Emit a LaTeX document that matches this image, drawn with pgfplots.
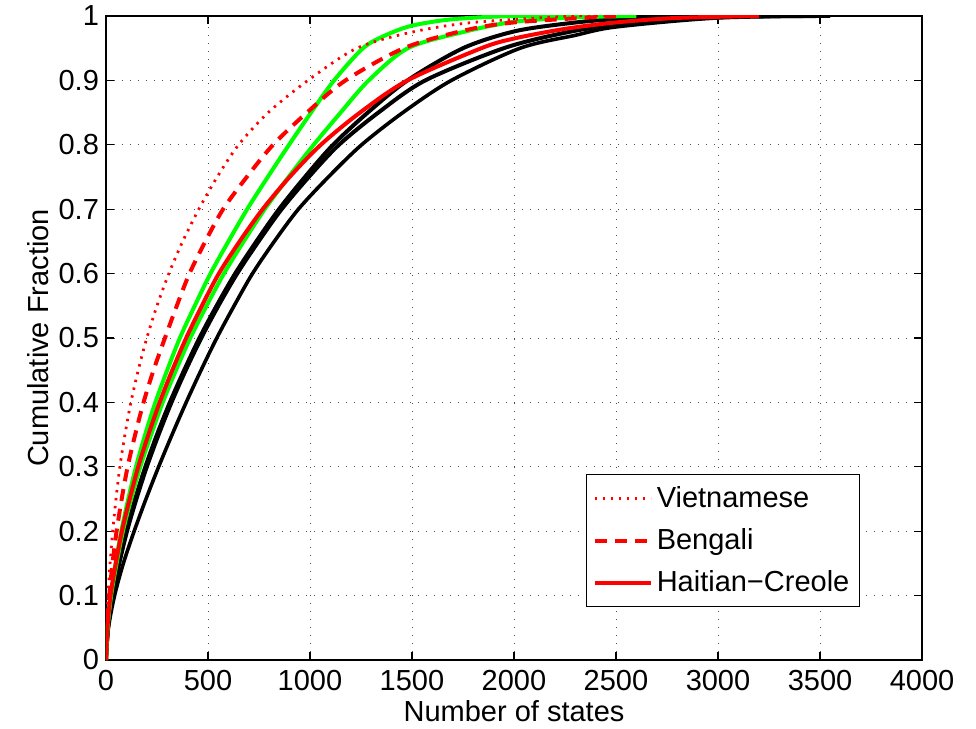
\documentclass[border=0pt]{standalone}
\usepackage{pgfplots}
\pgfplotsset{compat=1.18}
\usepackage{fontspec}
\setmainfont{Liberation Sans}

\definecolor{mgreen}{rgb}{0,1,0}

\begin{document}
\begin{tikzpicture}
  \begin{axis}[
      scale only axis,
      width=408pt, height=322pt,
      xmin=0, xmax=4000, ymin=0, ymax=1,
      xtick={0,500,...,4000},
      ytick={0,0.1,...,1.0},
      /pgf/number format/assume math mode=true,
      yticklabel style={/pgf/number format/fixed, /pgf/number format/precision=1},
      xticklabel style={/pgf/number format/set thousands separator={}, yshift=-1.5pt},
      tick label style={font=\fontsize{14.5}{17}\selectfont},
      label style={font=\fontsize{14.5}{17}\selectfont},
      xlabel={Number of states},
      ylabel={Cumulative Fraction},
      xlabel style={yshift=2pt},
      ylabel style={yshift=-2pt},
      grid=major,
      major grid style={black!70, line width=0.5pt, dash pattern=on 0.6pt off 3.4pt},
      tick align=inside,
      major tick length=4pt,
      tick style={black, line width=0.6pt},
      axis line style={line width=0.75pt},
      legend cell align=left,
      legend style={at={(rel axis cs:0.924,0.082)}, anchor=south east,
        font=\fontsize{14.5}{17}\selectfont, draw=black, line width=0.6pt,
        row sep=5pt, inner xsep=3pt, inner ysep=4pt},
      legend image code/.code={\draw[#1] (0pt,0pt) -- (28pt,0pt);},
  ]
    % black curves
    \addplot[black, line width=2pt, smooth, forget plot] table {
      0 0
      9 0.05
      30 0.1
      61 0.15
      98 0.2
      143 0.25
      193 0.3
      250 0.35
      313 0.4
      383 0.45
      458 0.5
      542 0.55
      633 0.6
      737 0.65
      848 0.7
      975 0.75
      1113 0.8
      1283 0.85
      1478 0.9
      1750 0.95
      2000 0.976
      2250 0.988
      2500 0.995
      3000 1.0
      3550 1.0
    };
    \addplot[black, line width=2pt, smooth, forget plot] table {
      0 0
      10 0.05
      33 0.1
      65 0.15
      103 0.2
      149 0.25
      200 0.3
      258 0.35
      321 0.4
      391 0.45
      467 0.5
      551 0.55
      643 0.6
      748 0.65
      861 0.7
      994 0.75
      1142 0.8
      1335 0.85
      1565 0.9
      1950 0.95
      2250 0.974
      2500 0.986
      3000 0.998
      3500 1.0
    };
    \addplot[black, line width=1.8pt, smooth, forget plot] table {
      0 0
      12 0.05
      42 0.1
      85 0.15
      138 0.2
      196 0.25
      258 0.3
      324 0.35
      393 0.4
      466 0.45
      543 0.5
      628 0.55
      718 0.6
      825 0.65
      943 0.7
      1090 0.75
      1253 0.8
      1455 0.85
      1693 0.9
      2030 0.95
      2300 0.97
      2500 0.983
      3000 0.997
      3550 1.0
    };
    % green curves
    \addplot[mgreen, line width=2pt, smooth, forget plot] table {
      0 0
      7 0.05
      23 0.1
      47 0.15
      75 0.2
      109 0.25
      147 0.3
      192 0.35
      242 0.4
      300 0.45
      362 0.5
      435 0.55
      512 0.6
      600 0.65
      692 0.7
      793 0.75
      897 0.8
      1005 0.85
      1118 0.9
      1260 0.95
      1370 0.97
      1500 0.985
      1700 0.995
      2000 1.0
      2400 1.0
    };
    \addplot[mgreen, line width=2pt, smooth, forget plot] table {
      0 0
      8 0.05
      25 0.1
      52 0.15
      83 0.2
      123 0.25
      168 0.3
      221 0.35
      278 0.4
      343 0.45
      413 0.5
      493 0.55
      578 0.6
      675 0.65
      778 0.7
      895 0.75
      1018 0.8
      1150 0.85
      1288 0.9
      1480 0.95
      1750 0.975
      2000 0.991
      2300 0.998
      2600 1.0
    };
    % red curves (legend)
    \addplot[red, line width=1.4pt, smooth, dash pattern=on 1.2pt off 2.8pt] table {
      0 0
      3 0.05
      10 0.1
      20 0.15
      33 0.2
      49 0.25
      68 0.3
      93 0.35
      122 0.4
      158 0.45
      200 0.5
      250 0.55
      308 0.6
      376 0.65
      455 0.7
      545 0.75
      650 0.8
      795 0.85
      990 0.9
      1230 0.95
      1500 0.975
      1800 0.99
      2300 1.0
      2500 1.0
    };
    \addlegendentry{Vietnamese}
    \addplot[red, line width=2pt, smooth, dash pattern=on 6pt off 4pt] table {
      0 0
      5 0.05
      16 0.1
      32 0.15
      52 0.2
      77 0.25
      106 0.3
      143 0.35
      184 0.4
      233 0.45
      289 0.5
      347 0.55
      409 0.6
      487 0.65
      574 0.7
      690 0.75
      819 0.8
      985 0.85
      1174 0.9
      1460 0.95
      1750 0.977
      2000 0.99
      2500 1.0
    };
    \addlegendentry{Bengali}
    \addplot[red, line width=2pt, smooth] table {
      0 0
      7 0.05
      22 0.1
      48 0.15
      78 0.2
      116 0.25
      158 0.3
      208 0.35
      263 0.4
      325 0.45
      393 0.5
      470 0.55
      553 0.6
      655 0.65
      768 0.7
      900 0.75
      1053 0.8
      1245 0.85
      1478 0.9
      1840 0.95
      2000 0.965
      2250 0.98
      2500 0.99
      2800 0.997
      3200 1.0
    };
    \addlegendentry{Haitian−Creole}
  \end{axis}
  \pgfresetboundingbox
  \path ([xshift=-53pt,yshift=-34pt]current axis.south west) rectangle ([xshift=27pt,yshift=8pt]current axis.north east);
\end{tikzpicture}
\end{document}
